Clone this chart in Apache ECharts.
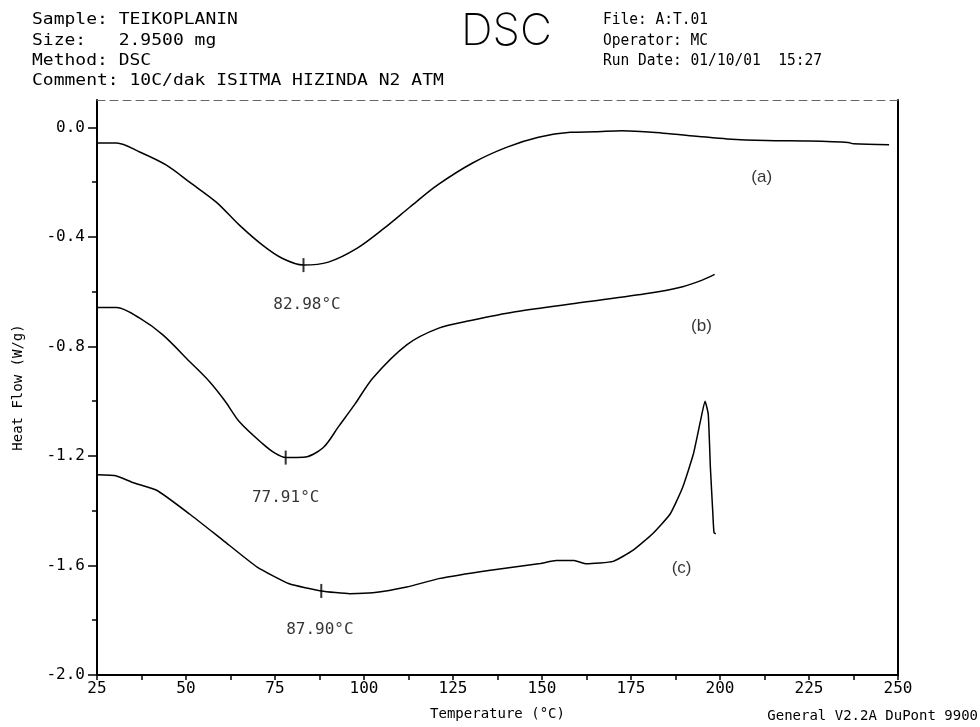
<!DOCTYPE html>
<html>
<head>
<meta charset="utf-8">
<script src="https://cdn.jsdelivr.net/npm/echarts@6/dist/echarts.min.js"></script>
<style>
html,body{margin:0;padding:0;background:#fff;}
#chart{width:980px;height:727px;}
</style>
</head>
<body>
<div id="chart"></div>
<script>
// ---- data ----
const tempA = [25, 30.5, 37, 44.5, 51, 58.5, 65, 71.5, 77, 83, 90, 98, 105.5, 113, 120.5, 130.5, 140, 149, 158, 165, 172.5, 184, 194, 202, 213, 225, 236, 237.5, 247.5];
const flowA = [-0.057, -0.057, -0.09, -0.138, -0.2, -0.273, -0.357, -0.43, -0.478, -0.503, -0.492, -0.442, -0.37, -0.29, -0.212, -0.13, -0.073, -0.036, -0.018, -0.016, -0.012, -0.021, -0.033, -0.042, -0.048, -0.05, -0.055, -0.06, -0.063];

const tempB = [25, 30.5, 37, 43.5, 51, 56.5, 61, 65, 71.5, 75, 78, 83, 88.5, 93, 97.5, 102.5, 112, 121, 130, 142.5, 161.5, 180, 189.5, 195, 198.5];
const flowB = [-0.658, -0.658, -0.697, -0.758, -0.855, -0.927, -1.0, -1.075, -1.155, -1.19, -1.206, -1.205, -1.17, -1.09, -1.01, -0.915, -0.794, -0.733, -0.705, -0.673, -0.639, -0.606, -0.582, -0.558, -0.537];

const tempC = [25, 30.5, 35, 42, 51, 60.5, 70, 79, 88, 96, 102.5, 112, 121, 135, 149.5, 154, 159, 162.5, 170, 175.5, 181, 186, 189.5, 192.5, 194.5, 195.8, 196.7, 197.3, 197.9, 198.3, 198.8];
const flowC = [-1.269, -1.273, -1.297, -1.327, -1.412, -1.509, -1.606, -1.667, -1.693, -1.703, -1.70, -1.679, -1.648, -1.618, -1.593, -1.582, -1.582, -1.594, -1.585, -1.545, -1.485, -1.412, -1.315, -1.194, -1.073, -1.0, -1.048, -1.242, -1.388, -1.479, -1.485];

// peak markers
const peakTemp = [83, 78, 88];
const peakFlow = [-0.503, -1.206, -1.693];
// annotation texts
const noteText = ['82.98°C', '77.91°C', '87.90°C'];
const noteTemp = [84, 78, 87.6];
const noteFlow = [-0.648, -1.352, -1.836];
// curve names
const curveText = ['(a)', '(b)', '(c)'];
const curveTemp = [211.7, 194.8, 189.2];
const curveFlow = [-0.182, -0.727, -1.612];

// axis ticks
const yMajor = [0, -0.4, -0.8, -1.2, -1.6, -2.0];
const yMinor = [-0.2, -0.6, -1.0, -1.4, -1.8];
const xLabels = [25, 50, 75, 100, 125, 150, 175, 200, 225, 250];

// header texts
const headerLeft = ['Sample: TEIKOPLANIN', 'Size:   2.9500 mg', 'Method: DSC', 'Comment: 10C/dak ISITMA HIZINDA N2 ATM'];
const headerRight = ['File: A:T.01', 'Operator: MC', 'Run Date: 01/10/01  15:27'];

const zip = (a, b) => a.map((v, i) => [v, b[i]]);
const mono = 'DejaVu Sans Mono';
const hdrFont = '15px "DejaVu Sans Mono"';

const chart = echarts.init(document.getElementById('chart'), null, {renderer: 'canvas'});
const lineStyle = {color: '#000', width: 1.5};

const graphics = [];
headerLeft.forEach((t, i) => graphics.push({type: 'text', x: 32, y: 13 + i * 20.3, scaleX: 1.2,
  style: {text: t, font: hdrFont, fill: '#000'}}));
headerRight.forEach((t, i) => graphics.push({type: 'text', x: 603, y: 13 + i * 20.3, scaleX: 0.97,
  style: {text: t, font: hdrFont, fill: '#000'}}));
graphics.push({type: 'text', x: 461, y: 10, style: {text: 'DSC', font: '200 44px Inter', fill: '#000'}});
graphics.push({type: 'text', right: 2, bottom: 4, style: {text: 'General V2.2A DuPont 9900', font: '14px "DejaVu Sans Mono"', fill: '#000'}});

chart.setOption({
  animation: false,
  backgroundColor: '#fff',
  grid: {left: 97, right: 82, top: 100, bottom: 52, show: false},
  xAxis: [{
    type: 'value', min: 25, max: 250, interval: 12.5, position: 'bottom',
    axisLine: {show: true, onZero: false, lineStyle: {color: '#000', width: 2}},
    axisTick: {show: true, length: 5, inside: false, lineStyle: {color: '#000', width: 1.5}},
    axisLabel: {color: '#000', fontFamily: mono, fontSize: 16, margin: 6,
      formatter: v => (xLabels.indexOf(v) >= 0 ? String(v) : '')},
    splitLine: {show: false},
    name: 'Temperature (°C)', nameLocation: 'middle', nameGap: 32,
    nameTextStyle: {color: '#000', fontFamily: mono, fontSize: 14}
  }, {
    type: 'value', min: 25, max: 250, position: 'top',
    axisLine: {show: true, onZero: false, lineStyle: {color: '#666', width: 1, type: [8, 5]}},
    axisTick: {show: false}, axisLabel: {show: false}, splitLine: {show: false}
  }],
  yAxis: [{
    type: 'value', min: -2.0, max: 0.1, position: 'left',
    axisLine: {show: true, onZero: false, lineStyle: {color: '#000', width: 2}},
    axisTick: {show: true, length: 9, customValues: yMajor, lineStyle: {color: '#000', width: 1.5}},
    axisLabel: {color: '#000', fontFamily: mono, fontSize: 16, margin: 12, customValues: yMajor,
      formatter: v => v.toFixed(1)},
    splitLine: {show: false},
    name: 'Heat Flow (W/g)', nameLocation: 'middle', nameGap: 72, nameRotate: 90,
    nameTextStyle: {color: '#000', fontFamily: mono, fontSize: 14}
  }, {
    type: 'value', min: -2.0, max: 0.1, position: 'left',
    axisLine: {show: false, onZero: false},
    axisTick: {show: true, length: 5, customValues: yMinor, lineStyle: {color: '#000', width: 1.5}},
    axisLabel: {show: false}, splitLine: {show: false}
  }, {
    type: 'value', min: -2.0, max: 0.1, position: 'right',
    axisLine: {show: true, onZero: false, lineStyle: {color: '#000', width: 2}},
    axisTick: {show: false}, axisLabel: {show: false}, splitLine: {show: false}
  }],
  graphic: graphics,
  series: [
    {type: 'line', name: 'a', data: zip(tempA, flowA), showSymbol: false, smooth: 0.3, lineStyle},
    {type: 'line', name: 'b', data: zip(tempB, flowB), showSymbol: false, smooth: 0.3, lineStyle},
    {type: 'line', name: 'c', data: zip(tempC, flowC), showSymbol: false, smooth: 0.15, lineStyle},
    {type: 'scatter', name: 'peaks', data: zip(peakTemp, peakFlow), symbol: 'rect', symbolSize: [2, 14],
      itemStyle: {color: '#000'}, silent: true},
    {type: 'scatter', name: 'notes', data: zip(noteTemp, noteFlow).map((p, i) => ({value: p, label: {formatter: noteText[i]}})),
      symbolSize: 0, silent: true,
      label: {show: true, position: 'inside', color: '#000', fontFamily: mono, fontSize: 16}},
    {type: 'scatter', name: 'curves', data: zip(curveTemp, curveFlow).map((p, i) => ({value: p, label: {formatter: curveText[i]}})),
      symbolSize: 0, silent: true,
      label: {show: true, position: 'inside', color: '#000', fontFamily: 'Liberation Sans', fontSize: 17}}
  ]
});
</script>
</body>
</html>
